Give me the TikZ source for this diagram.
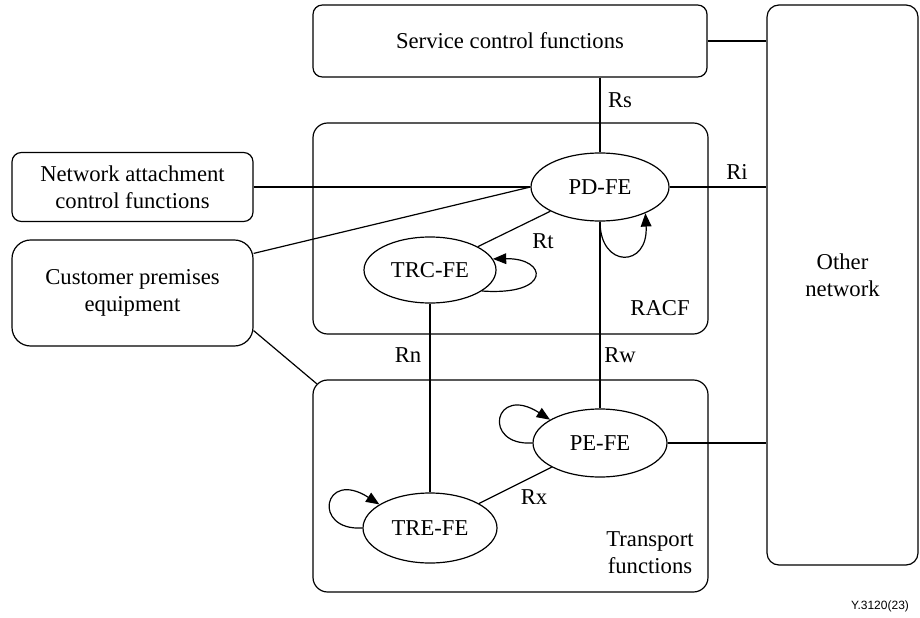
\documentclass[tikz,border=0pt]{standalone}
\usepackage{fontspec}
\setmainfont{Liberation Serif}
\setsansfont{Liberation Sans}
\usetikzlibrary{arrows.meta,shapes.geometric}

\begin{document}
\begin{tikzpicture}[x=0.75pt,y=-0.75pt,line width=0.9pt,
    every node/.style={font=\fontsize{17}{20}\selectfont},
    box/.style={draw, rectangle, align=center, inner sep=0pt},
    fe/.style={draw, ellipse, inner sep=0pt},
    lbl/.style={inner sep=0pt, align=center},
    selfloop/.style={-{Triangle[length=10pt,width=8pt]}}]

\useasboundingbox (0,0) rectangle (920,617);

% Define the boxes in a loop: name/x/y/width/height/corner/text
\foreach \name/\x/\y/\w/\h/\r/\txt in {
    scf/510/41/295.5/54/7/{Service control functions},
    other/842.5/285/113.25/420/9/{},
    racf/510.5/228.5/296.25/158.25/11/{},
    tf/510.5/486/296.25/159/11/{},
    nacf/132.5/187/180.75/51.75/7/{Network attachment\\control functions},
    cpe/132.5/293/180.75/79.5/14/{Customer premises\\equipment}} {
    \node[box, rounded corners=\r pt, minimum width=\w pt, minimum height=\h pt] (\name) at (\x,\y) {\txt};
}

% Define the functional entities
\foreach \name/\x/\y/\w/\h/\txt in {
    pdfe/600/187/103.5/51/PD-FE,
    trcfe/430/270/99/49.5/TRC-FE,
    pefe/600/443/100.5/51/PE-FE,
    trefe/430/528/100.5/52.5/TRE-FE} {
    \node[fe, minimum width=\w pt, minimum height=\h pt] (\name) at (\x,\y) {\txt};
}

% Define edges in a loop
\foreach \source/\dest in {nacf/pdfe, pdfe/trcfe, pdfe/pefe, trcfe/trefe, pefe/trefe} {
    \draw (\source) -- (\dest);
}
\draw (pdfe.north |- scf.south) -- (pdfe.north);
\draw (scf.east) -- (scf.east -| other.west);
\draw (pdfe.east) -- (pdfe.east -| other.west);
\draw (pefe.east) -- (pefe.east -| other.west);
\draw ([yshift=-10.5pt]cpe.north east) -- (pdfe.west);
\draw ([yshift=12pt]cpe.south east) -- ([xshift=3.3pt,yshift=-3.3pt]tf.north west);

% Self loops
\draw[selfloop] (pdfe.south) .. controls +(0,47) and +(3,55) .. (pdfe.-30);
\draw[selfloop] (trcfe.-22) .. controls +(70,5) and +(55,-1) .. (trcfe.10);
\draw[selfloop] (pefe.west) .. controls +(-51,3) and +(-56,-36) .. (pefe.155);
\draw[selfloop] (trefe.west) .. controls +(-51,3) and +(-56,-36) .. (trefe.155);

% Reference point labels
\foreach \name/\x/\y/\txt in {rs/620/100/Rs, ri/737/172/Ri, rt/543/241/Rt,
    rn/408/355/Rn, rw/620/355/Rw, rx/534/497/Rx, racflbl/660/308/RACF,
    tflbl/650/553/{Transport\\functions}, otherlbl/842.5/275/{Other\\network}} {
    \node[lbl] (\name) at (\x,\y) {\txt};
}
\node[lbl, font=\sffamily\fontsize{9}{10}\selectfont] (fig) at (880,606) {Y.3120(23)};

\end{tikzpicture}
\end{document}
